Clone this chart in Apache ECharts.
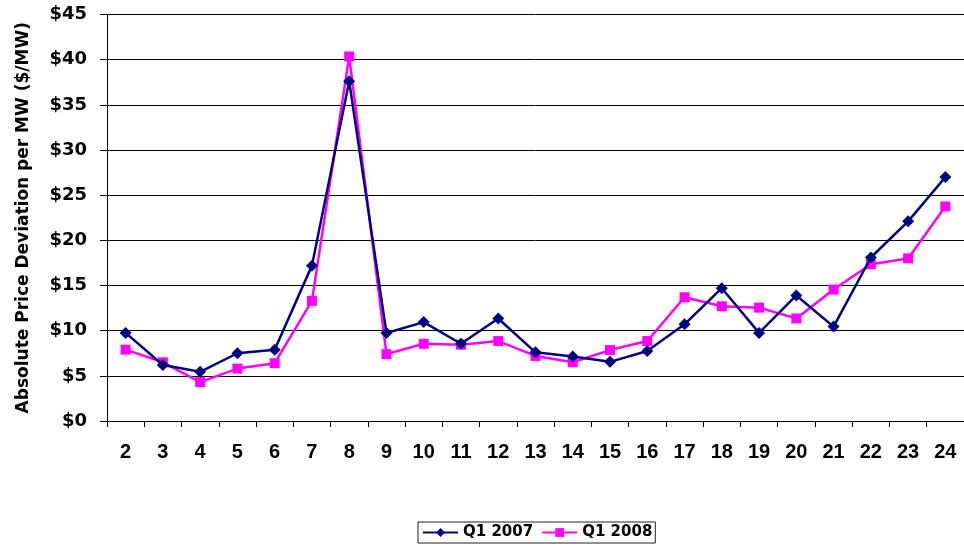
<!DOCTYPE html>
<html lang="en" style="height: 100%">
<head>
  <meta charset="UTF-8">
  <title>Absolute Price Deviation</title>
  <script src="https://cdn.jsdelivr.net/npm/echarts@6/dist/echarts.min.js"></script>
</head>
<body style="height: 100%; margin: 0; background: #fff">
  <div id="container" style="width: 964px; height: 546px"></div>
  <script>
    var hours = ['2', '3', '4', '5', '6', '7', '8', '9', '10', '11', '12', '13',
      '14', '15', '16', '17', '18', '19', '20', '21', '22', '23', '24'];
    var q1_2007 = [9.75, 6.2, 5.45, 7.5, 7.9, 17.2, 37.6, 9.75, 10.95, 8.55, 11.35, 7.6,
      7.15, 6.55, 7.75, 10.7, 14.7, 9.75, 13.9, 10.45, 18.1, 22.1, 27.0];
    var q1_2008 = [7.9, 6.5, 4.3, 5.8, 6.4, 13.3, 40.35, 7.4, 8.55, 8.45, 8.85, 7.2,
      6.5, 7.85, 8.85, 13.7, 12.7, 12.55, 11.35, 14.55, 17.35, 18.0, 23.75];

    var chart = echarts.init(document.getElementById('container'));
    var font = 'Liberation Sans, Arial, sans-serif';
    var wide = 'DejaVu Sans, Verdana, sans-serif';

    var option = {
      animation: false,
      grid: { left: 107, right: 0, top: 14.5, bottom: 125 },
      legend: {
        top: 522,
        left: 418,
        itemGap: 8,
        itemWidth: 35,
        itemHeight: 11,
        padding: [3, 3, 3, 4],
        borderColor: '#222',
        borderWidth: 1,
        textStyle: { fontFamily: wide, fontWeight: 'bold', fontSize: 15, color: '#000' },
        data: ['Q1 2007', 'Q1 2008']
      },
      xAxis: {
        type: 'category',
        data: hours,
        boundaryGap: true,
        axisLine: { lineStyle: { color: '#000', width: 1 } },
        axisTick: { show: true, length: 6, lineStyle: { color: '#000' } },
        axisLabel: { margin: 21, color: '#000', fontFamily: font, fontWeight: 'bold', fontSize: 20 }
      },
      yAxis: {
        type: 'value',
        min: 0,
        max: 45,
        interval: 5,
        name: 'Absolute Price Deviation per MW ($/MW)',
        nameLocation: 'middle',
        nameGap: 75,
        nameTextStyle: { fontFamily: wide, fontWeight: 'bold', fontSize: 17, color: '#000' },
        axisLine: { show: true, lineStyle: { color: '#000', width: 1 } },
        axisTick: { show: true, length: 7, lineStyle: { color: '#000' } },
        axisLabel: {
          margin: 20,
          color: '#000',
          fontFamily: wide,
          fontWeight: 'bold',
          fontSize: 18,
          formatter: function (v) { return '$' + v; }
        },
        splitLine: { lineStyle: { color: '#000', width: 1 } }
      },
      series: [
        {
          name: 'Q1 2007',
          type: 'line',
          data: q1_2007,
          symbol: 'diamond',
          symbolSize: 12,
          itemStyle: { color: '#000080' },
          lineStyle: { color: '#000080', width: 2.5 },
          z: 3
        },
        {
          name: 'Q1 2008',
          type: 'line',
          data: q1_2008,
          symbol: 'rect',
          symbolSize: 10,
          itemStyle: { color: '#ff00ff' },
          lineStyle: { color: '#ff00ff', width: 2.5 },
          z: 2
        }
      ]
    };
    chart.setOption(option);
  </script>
</body>
</html>
